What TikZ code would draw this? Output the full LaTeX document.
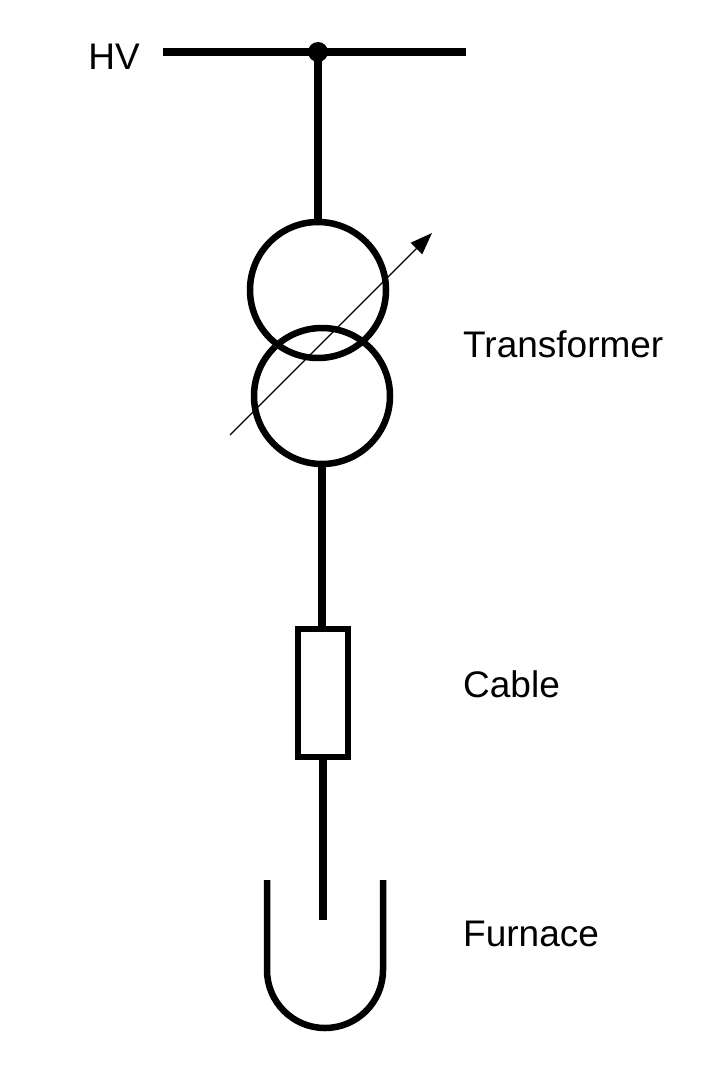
\documentclass[tikz,border=0pt]{standalone}
\usepackage{fontspec}
\setmainfont{Liberation Sans}
\usetikzlibrary{arrows.meta}
\begin{document}
\begin{tikzpicture}[x=1pt,y=-1pt,
  wire/.style={line width=7.5pt},
  lbl/.style={anchor=west,font=\fontsize{37}{40}\selectfont,inner sep=0pt}]
\useasboundingbox (0,0) rectangle (719,1075);
\coordinate (b1) at (163,52);
\coordinate (b2) at (466,52);
\coordinate (j) at (318,52);
\draw[wire] (b1) -- (b2);
\fill (j) circle (10);
\node[circle,draw,line width=6.5pt,minimum size=136pt,inner sep=0pt] (c1) at (318,290) {};
\node[circle,draw,line width=6.5pt,minimum size=136pt,inner sep=0pt] (c2) at (322,396) {};
\draw[wire] (j) -- (c1.north);
\draw[line width=1.3pt,-{Triangle[length=22pt,width=16pt]}] (230,435) -- (432,233);
\node[draw,line width=6.5pt,minimum width=50pt,minimum height=128pt,inner sep=0pt] (cab) at (323,693) {};
\draw[wire] (c2.south) -- (c2.south |- cab.north);
\coordinate (f) at (323,920);
\draw[wire] (cab.south) -- (f);
\draw[line width=6.5pt] (267,880) -- (267,970) arc[start angle=180,end angle=0,radius=58] -- (383,880);
\node[lbl,anchor=east] (hv) at (140,57) {HV};
\node[lbl] (tr) at (463,344) {Transformer};
\node[lbl] (cl) at (463,684) {Cable};
\node[lbl] (fu) at (463,934) {Furnace};
\end{tikzpicture}
\end{document}
